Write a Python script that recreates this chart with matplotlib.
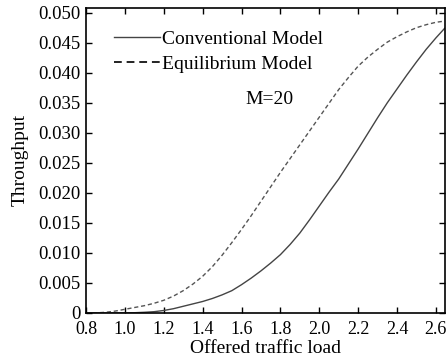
import matplotlib
matplotlib.use("Agg")
import matplotlib.pyplot as plt
from matplotlib.lines import Line2D

plt.rcParams["font.family"] = ["Liberation Serif", "DejaVu Serif"]
plt.rcParams["font.size"] = 14

# offered traffic load (x) and throughput for M=20
load = [0.8, 0.85, 0.9, 0.95, 1.0, 1.05, 1.1, 1.15, 1.2, 1.25, 1.3, 1.35,
        1.4, 1.45, 1.5, 1.55, 1.6, 1.65, 1.7, 1.75, 1.8, 1.85, 1.9, 1.95,
        2.0, 2.05, 2.1, 2.15, 2.2, 2.25, 2.3, 2.35, 2.4, 2.45, 2.5, 2.55,
        2.6, 2.645]
conventional = [0.0, 0.0, 0.0, 0.0, 0.0, 0.00003, 0.0001, 0.0002, 0.0004,
                0.0007, 0.0011, 0.0015, 0.0019, 0.0024, 0.0030, 0.0037,
                0.0047, 0.0058, 0.0070, 0.0083, 0.0097, 0.0114, 0.0133,
                0.0155, 0.0178, 0.0201, 0.0223, 0.0248, 0.0273, 0.0299,
                0.0325, 0.0350, 0.0373, 0.0396, 0.0418, 0.0439, 0.0458,
                0.0474]
equilibrium = [0.0, 0.0, 0.0001, 0.0003, 0.0006, 0.0009, 0.0012, 0.0016,
               0.0021, 0.0028, 0.0037, 0.0048, 0.0061, 0.0077, 0.0096,
               0.0117, 0.0139, 0.0162, 0.0186, 0.0210, 0.0234, 0.0257,
               0.0280, 0.0303, 0.0326, 0.0349, 0.0372, 0.0392, 0.0411,
               0.0426, 0.0439, 0.0451, 0.0460, 0.0468, 0.0475, 0.0480,
               0.0484, 0.0486]

x_ticks = [0.8, 1.0, 1.2, 1.4, 1.6, 1.8, 2.0, 2.2, 2.4, 2.6]
y_ticks = [0, 0.005, 0.010, 0.015, 0.020, 0.025, 0.030, 0.035, 0.040, 0.045, 0.050]
y_labels = ["0"] + [f"{v:.3f}" for v in y_ticks[1:]]

fig = plt.figure(figsize=(4.48, 3.58), dpi=100)
ax = fig.add_axes([0.192, 0.126, 0.801, 0.852])

ax.plot(load, conventional, color="#444444", lw=1.0)
ax.plot(load, equilibrium, color="#555555", lw=1.0, ls=(0, (3, 2)))

ax.set_xlim(0.8, 2.646)
ax.set_ylim(0, 0.0508)
ax.set_xticks(x_ticks)
ax.set_xticklabels([f"{v:.1f}" for v in x_ticks], fontsize=13)
ax.set_yticks(y_ticks)
ax.set_yticklabels(y_labels, fontsize=13.5)
ax.tick_params(direction="in", length=4, width=1, top=True, right=True)
ax.tick_params(axis="x", pad=6)
ax.tick_params(axis="y", pad=4)
for sp in ax.spines.values():
    sp.set_linewidth(1.2)

ax.set_xlabel("Offered traffic load", labelpad=1)
ax.set_ylabel("Throughput", labelpad=7)

ax.text(1.744, 0.0355, "M=20", ha="center", va="center")

handles = [Line2D([], [], color="#444444", lw=1.0),
           Line2D([], [], color="#222222", lw=1.4, ls=(0, (4, 2.5)))]
ax.legend(handles, ["Conventional Model", "Equilibrium Model"],
          loc="upper left", bbox_to_anchor=(0.045, 0.965), frameon=False,
          handlelength=2.4, handletextpad=0.1, labelspacing=0.4,
          borderaxespad=0.2)

fig.savefig("out.png", dpi=100)
